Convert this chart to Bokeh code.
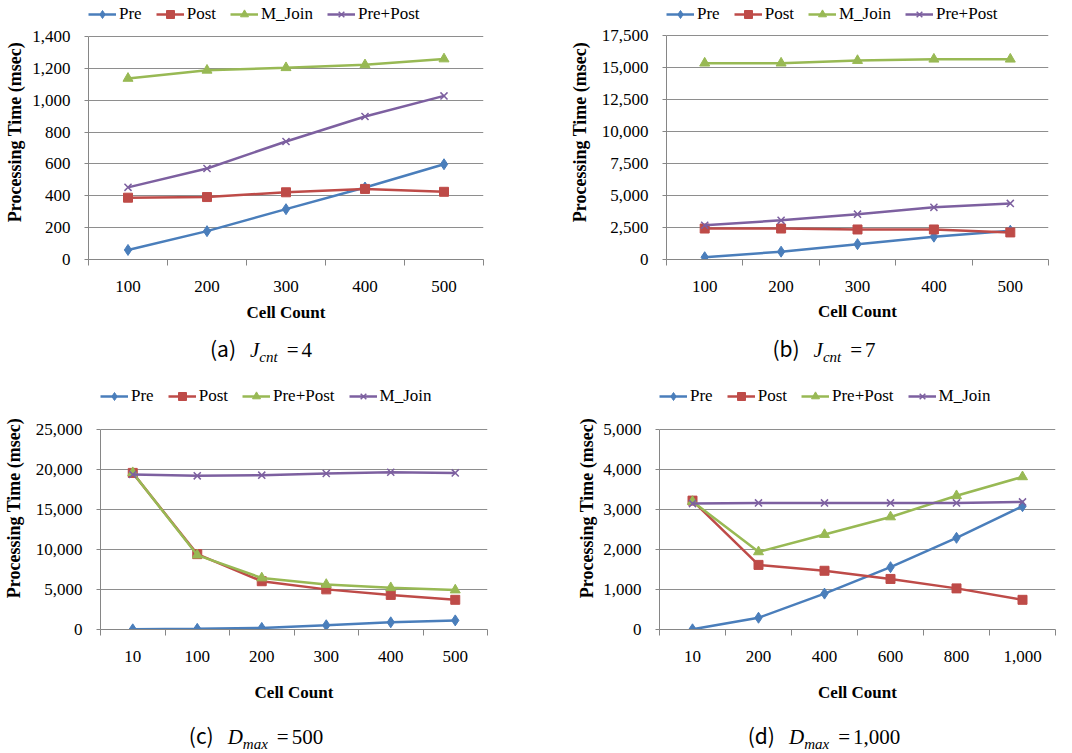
from bokeh.plotting import figure
from bokeh.models import Range1d, FixedTicker, NumeralTickFormatter, Legend, LegendItem, Div
from bokeh.layouts import column, row
from bokeh.embed import file_html
from bokeh.resources import INLINE

# ---------------- data ----------------
cells_ab = ["100", "200", "300", "400", "500"]
names_ab = ["Pre", "Post", "M_Join", "Pre+Post"]
a_pre = [60, 178, 316, 452, 598]
a_post = [388, 392, 422, 443, 425]
a_mjoin = [1137, 1188, 1204, 1222, 1259]
a_prepost = [453, 571, 741, 898, 1027]
yticks_a = [0, 200, 400, 600, 800, 1000, 1200, 1400]

b_pre = [178, 611, 1198, 1784, 2250]
b_post = [2420, 2420, 2345, 2345, 2115]
b_mjoin = [15340, 15340, 15545, 15650, 15650]
b_prepost = [2676, 3058, 3542, 4077, 4383]
yticks_b = [0, 2500, 5000, 7500, 10000, 12500, 15000, 17500]

cells_c = ["10", "100", "200", "300", "400", "500"]
names_cd = ["Pre", "Post", "Pre+Post", "M_Join"]
c_pre = [20, 80, 200, 530, 900, 1140]
c_post = [19575, 9420, 6035, 5016, 4323, 3711]
c_prepost = [19600, 9300, 6444, 5628, 5220, 4935]
c_mjoin = [19370, 19208, 19290, 19494, 19657, 19575]
yticks_c = [0, 5000, 10000, 15000, 20000, 25000]

cells_d = ["10", "200", "400", "600", "800", "1,000"]
d_pre = [5, 294, 897, 1558, 2292, 3083]
d_post = [3222, 1615, 1468, 1264, 1028, 742]
d_prepost = [3200, 1941, 2374, 2814, 3344, 3817]
d_mjoin = [3148, 3165, 3165, 3165, 3165, 3189]
yticks_d = [0, 1000, 2000, 3000, 4000, 5000]

# ---------------- style ----------------
COLORS = ["#4A7EBB", "#BE4B48", "#98B954", "#7D60A0"]
MARKERS = ["diamond", "square", "triangle", "x"]
SIZES = [11, 9, 10, 10]
SERIF = "'Liberation Serif', 'Times New Roman', serif"
GRID = "#8e8e8e"
AXIS = "#868686"
LEG_H = 20


def make_panel(cats, names, series, yticks, W, H, fl, fr, ft, fb, leg_top,
               ylab_std, xlab_std):
    """ft/fb: pixel rows of the top tick and of zero; the frame is extended
    upward to leg_top so that the legend can sit above the plotted area."""
    n = len(cats)
    xs = list(range(1, n + 1))
    ymax = yticks[-1]
    y_end = ymax * (fb - leg_top) / (fb - ft)
    p = figure(width=W, height=H, x_range=Range1d(0.5, n + 0.5),
               y_range=Range1d(yticks[0], y_end),
               output_backend="svg", toolbar_location=None,
               min_border_left=fl, min_border_right=W - fr,
               min_border_top=leg_top, min_border_bottom=H - fb,
               background_fill_color="white", border_fill_color="white")
    p.outline_line_color = None
    p.xgrid.visible = False
    p.ygrid.grid_line_color = GRID
    p.ygrid.grid_line_width = 1

    xa = p.xaxis[0]
    xa.ticker = FixedTicker(ticks=xs, minor_ticks=[i + 0.5 for i in range(n + 1)])
    xa.major_label_overrides = {x: c for x, c in zip(xs, cats)}
    xa.major_tick_out = 0
    xa.major_tick_in = 0
    xa.minor_tick_out = 6
    xa.minor_tick_in = 0
    xa.minor_tick_line_color = AXIS
    xa.axis_line_color = AXIS
    xa.major_label_text_font = SERIF
    xa.major_label_text_font_size = "17px"
    xa.major_label_text_color = "#000000"
    xa.major_label_standoff = 15
    xa.axis_label = "Cell Count"
    xa.axis_label_text_font = SERIF
    xa.axis_label_text_font_style = "bold"
    xa.axis_label_text_font_size = "17px"
    xa.axis_label_text_color = "#000000"
    xa.axis_label_standoff = xlab_std

    ya = p.yaxis[0]
    ya.ticker = FixedTicker(ticks=yticks)
    ya.bounds = (yticks[0], ymax)
    ya.formatter = NumeralTickFormatter(format="0,0")
    ya.major_tick_out = 4
    ya.major_tick_in = 0
    ya.minor_tick_out = 0
    ya.minor_tick_in = 0
    ya.major_tick_line_color = AXIS
    ya.axis_line_color = AXIS
    ya.major_label_text_font = SERIF
    ya.major_label_text_font_size = "17px"
    ya.major_label_text_color = "#000000"
    ya.major_label_standoff = 14
    ya.axis_label = "Processing Time (msec)"
    ya.axis_label_text_font = SERIF
    ya.axis_label_text_font_style = "bold"
    ya.axis_label_text_font_size = "18px"
    ya.axis_label_text_color = "#000000"
    ya.axis_label_standoff = ylab_std

    items = []
    for i, (name, ys) in enumerate(zip(names, series)):
        ln = p.line(xs, ys, line_color=COLORS[i], line_width=2.5)
        if MARKERS[i] == "x":
            sc = p.scatter(xs, ys, marker="x", size=SIZES[i], line_color=COLORS[i],
                           line_width=1.5)
        else:
            sc = p.scatter(xs, ys, marker=MARKERS[i], size=SIZES[i],
                           fill_color=COLORS[i], line_color=COLORS[i], line_width=1)
        items.append(LegendItem(label=name, renderers=[ln, sc]))

    legend = Legend(items=items, orientation="horizontal", location="top_left",
                    padding=0, margin=0, spacing=14, label_standoff=3,
                    glyph_width=28, glyph_height=LEG_H, label_height=LEG_H,
                    label_text_font=SERIF, label_text_font_size="17px",
                    label_text_color="#000000",
                    border_line_color=None, background_fill_alpha=0)
    p.add_layout(legend)
    return p


def caption(letter, sym, sub, val, dx, dy, w, h):
    ser = "font-family:'Liberation Serif','Times New Roman',serif;"
    html = (
        f'<div style="position:relative;left:{dx}px;top:{dy}px;width:{w}px;'
        f'text-align:center;white-space:nowrap;line-height:24px;font-size:21px;color:#000;">'
        f'<span style="font-family:\'Noto Sans CJK KR\',\'Noto Sans\',sans-serif;">({letter})</span>'
        f'<span style="{ser}font-style:italic;margin-left:14px;">{sym}'
        f'<sub style="font-size:15px;line-height:0;vertical-align:-5px;">{sub}</sub></span>'
        f'<span style="{ser}margin-left:9px;">=</span>'
        f'<span style="{ser}margin-left:3px;">{val}</span></div>'
    )
    return Div(text=html, width=w, height=h)


W = 528
pa = make_panel(cells_ab, names_ab, [a_pre, a_post, a_mjoin, a_prepost], yticks_a,
                W, 329, 88, 483, 36, 259, 4, 4, 8)
pb = make_panel(cells_ab, names_ab, [b_pre, b_post, b_mjoin, b_prepost], yticks_b,
                W, 329, 128, 510, 35, 259, 4, 9, 7)
pc = make_panel(cells_c, names_cd, [c_pre, c_post, c_prepost, c_mjoin], yticks_c,
                W, 337, 100, 487, 57, 257, 14, 9, 18)
pd_ = make_panel(cells_d, names_cd, [d_pre, d_post, d_prepost, d_mjoin], yticks_d,
                 W, 337, 121, 517, 57, 257, 14, 3, 18)

da = caption("a", "J", "cnt", "4", -8, 2, W, 33)
db = caption("b", "J", "cnt", "7", 17, 2, W, 33)
dc = caption("c", "D", "max", "500", -13, 9, W, 38)
dd = caption("d", "D", "max", "1,000", 17, 9, W, 38)

layout = column(row(column(pa, da), column(pb, db)),
                row(column(pc, dc), column(pd_, dd)))

open("out.html", "w").write(file_html(layout, INLINE))
